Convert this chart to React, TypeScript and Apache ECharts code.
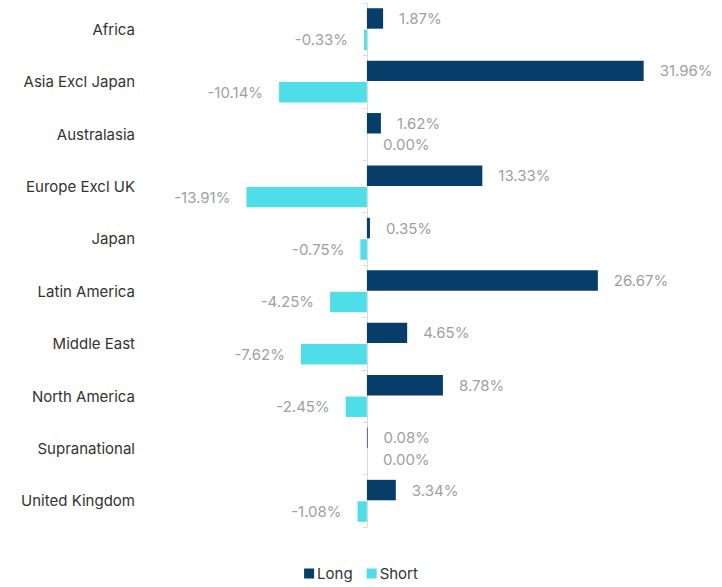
import React, { useEffect, useRef } from "react";
import * as echarts from "echarts";

const categories = [
  "Africa",
  "Asia Excl Japan",
  "Australasia",
  "Europe Excl UK",
  "Japan",
  "Latin America",
  "Middle East",
  "North America",
  "Supranational",
  "United Kingdom",
];
const longValues = [1.87, 31.96, 1.62, 13.33, 0.35, 26.67, 4.65, 8.78, 0.08, 3.34];
const shortValues = [-0.33, -10.14, 0.0, -13.91, -0.75, -4.25, -7.62, -2.45, 0.0, -1.08];

const FONT = "Inter";

export default function App() {
  const ref = useRef<HTMLDivElement>(null);
  useEffect(() => {
    document.body.style.margin = "0";
    const chart = echarts.init(ref.current!, undefined, { renderer: "svg" });
    const mk = (vals: number[]) =>
      vals.map((v) => ({
        value: v,
        label: { position: v < 0 ? "left" : "right" },
      }));
    const labelCfg = {
      show: true,
      distance: 16,
      color: "#a0a0a0",
      fontSize: 15,
      fontFamily: FONT,
      formatter: (p: any) => Number(p.value).toFixed(2) + "%",
    };
    chart.setOption({
      animation: false,
      textStyle: { fontFamily: FONT },
      grid: {
        left: 237,
        right: 52,
        top: 3,
        bottom: 60,
        containLabel: false,
        outerBoundsMode: "none",
      },
      legend: {
        bottom: 1,
        left: "center",
        itemWidth: 10,
        itemHeight: 10,
        itemGap: 14,
        icon: "rect",
        textStyle: { color: "#333", fontSize: 15, fontFamily: FONT, padding: [0, 0, 0, -2] },
        data: ["Long", "Short"],
      },
      xAxis: {
        type: "value",
        min: -15,
        max: 35,
        show: false,
        splitLine: { show: false },
      },
      yAxis: {
        type: "category",
        inverse: true,
        data: categories,
        axisLine: { show: true, onZero: true, lineStyle: { color: "#d9d9d9" } },
        axisTick: { show: true, length: 4, lineStyle: { color: "#d9d9d9" } },
        axisLabel: { margin: 102, color: "#333", fontSize: 15, fontFamily: FONT },
      },
      series: [
        {
          name: "Long",
          type: "bar",
          data: mk(longValues),
          itemStyle: { color: "#073d69" },
          barCategoryGap: "20%",
          barGap: "5%",
          label: labelCfg,
        },
        {
          name: "Short",
          type: "bar",
          data: mk(shortValues),
          itemStyle: { color: "#4fdee7" },
          barCategoryGap: "20%",
          barGap: "5%",
          label: labelCfg,
        },
      ],
    });
    return () => chart.dispose();
  }, []);
  return <div ref={ref} style={{ width: 722, height: 587 }} />;
}
